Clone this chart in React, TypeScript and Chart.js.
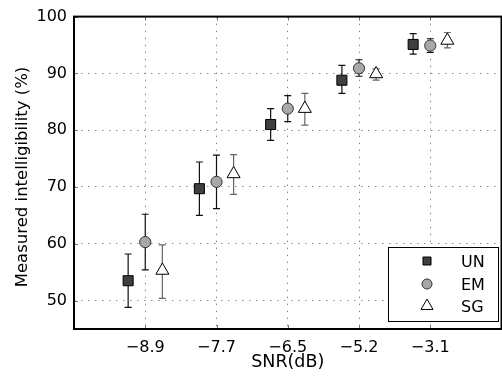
import React, { useEffect, useRef } from "react";
import { Chart, registerables } from "chart.js";

Chart.register(...registerables);

const categories = ["\u22128.9", "\u22127.7", "\u22126.5", "\u22125.2", "\u22123.1"];
const yTicks = [50, 60, 70, 80, 90, 100];

const unMean = [53.5, 69.7, 81.0, 88.8, 95.1];
const unLow = [48.8, 65.0, 78.2, 86.5, 93.4];
const unHigh = [58.2, 74.4, 83.8, 91.4, 97.0];

const emMean = [60.3, 70.9, 83.8, 90.9, 94.9];
const emLow = [55.4, 66.2, 81.5, 89.5, 93.7];
const emHigh = [65.2, 75.6, 86.1, 92.4, 96.1];

const sgMean = [55.3, 72.3, 83.8, 89.9, 95.8];
const sgLow = [50.4, 68.7, 80.9, 88.8, 94.5];
const sgHigh = [59.8, 75.7, 86.5, 90.8, 97.2];

const offsets = [-0.24, 0, 0.24];

const seriesNames = ["UN", "EM", "SG"];

const FONT = "'DejaVu Sans', sans-serif";

function pts(mean: number[], off: number) {
  return mean.map((v, i) => ({ x: i + 1 + off, y: v }));
}

const errData = [
  { low: unLow, high: unHigh, color: "#111" },
  { low: emLow, high: emHigh, color: "#111" },
  { low: sgLow, high: sgHigh, color: "#666" },
];

function drawMarker(ctx: CanvasRenderingContext2D, kind: number, x: number, y: number, s: number) {
  ctx.save();
  ctx.lineWidth = 1;
  ctx.strokeStyle = "#000";
  ctx.beginPath();
  if (kind === 0) {
    ctx.fillStyle = "#3f3f3f";
    ctx.rect(x - s / 2, y - s / 2, s, s);
  } else if (kind === 1) {
    ctx.fillStyle = "#a8a8a8";
    ctx.strokeStyle = "#333";
    ctx.arc(x, y, s / 2, 0, Math.PI * 2);
  } else {
    ctx.fillStyle = "#fff";
    const r = s / Math.sqrt(3);
    ctx.moveTo(x, y - r);
    ctx.lineTo(x + s / 2, y + r / 2);
    ctx.lineTo(x - s / 2, y + r / 2);
    ctx.closePath();
  }
  ctx.fill();
  ctx.stroke();
  ctx.restore();
}

const errorBarPlugin = {
  id: "errorBars",
  beforeDatasetsDraw(chart: any) {
    const ctx = chart.ctx;
    const xs = chart.scales.x;
    const ys = chart.scales.y;
    errData.forEach((e, k) => {
      ctx.save();
      ctx.strokeStyle = e.color;
      ctx.lineWidth = 1.2;
      e.low.forEach((lo, i) => {
        const px = xs.getPixelForValue(i + 1 + offsets[k]);
        const pl = ys.getPixelForValue(lo);
        const ph = ys.getPixelForValue(e.high[i]);
        ctx.beginPath();
        ctx.moveTo(px, pl);
        ctx.lineTo(px, ph);
        ctx.moveTo(px - 3.5, pl);
        ctx.lineTo(px + 3.5, pl);
        ctx.moveTo(px - 3.5, ph);
        ctx.lineTo(px + 3.5, ph);
        ctx.stroke();
      });
      ctx.restore();
    });
  },
};

const framePlugin = {
  id: "frame",
  afterDraw(chart: any) {
    const ctx = chart.ctx;
    const a = chart.chartArea;
    const xs = chart.scales.x;
    const ys = chart.scales.y;
    ctx.save();
    // inward ticks
    ctx.strokeStyle = "#777";
    ctx.lineWidth = 1;
    ctx.beginPath();
    for (let i = 1; i <= categories.length; i++) {
      const px = Math.round(xs.getPixelForValue(i)) + 0.5;
      ctx.moveTo(px, a.bottom);
      ctx.lineTo(px, a.bottom - 4);
      ctx.moveTo(px, a.top);
      ctx.lineTo(px, a.top + 4);
    }
    yTicks.forEach((v) => {
      const py = Math.round(ys.getPixelForValue(v)) + 0.5;
      ctx.moveTo(a.left, py);
      ctx.lineTo(a.left + 4, py);
    });
    ctx.stroke();
    // frame
    ctx.strokeStyle = "#000";
    ctx.lineWidth = 2;
    ctx.strokeRect(a.left, a.top, a.right - a.left, a.bottom - a.top);

    // axis titles
    ctx.fillStyle = "#000";
    ctx.font = "17.5px " + FONT;
    ctx.textAlign = "center";
    ctx.textBaseline = "alphabetic";
    ctx.fillText("SNR(dB)", xs.getPixelForValue(3), 366.5);
    ctx.save();
    ctx.font = "16.5px " + FONT;
    ctx.translate(26.5, 177);
    ctx.rotate(-Math.PI / 2);
    ctx.fillText("Measured intelligibility (%)", 0, 0);
    ctx.restore();

    // legend
    const lx = 388.5, ly = 247.5, lw = 110, lh = 74;
    ctx.fillStyle = "#fff";
    ctx.fillRect(lx, ly, lw, lh);
    ctx.strokeStyle = "#000";
    ctx.lineWidth = 1;
    ctx.strokeRect(lx, ly, lw, lh);
    const rows = [261, 284, 306];
    const sizes = [8, 10, 12];
    seriesNames.forEach((n, k) => {
      drawMarker(ctx, k, 427, rows[k], sizes[k]);
      ctx.fillStyle = "#000";
      ctx.font = "16px " + FONT;
      ctx.textAlign = "left";
      ctx.textBaseline = "alphabetic";
      ctx.fillText(n, 461, rows[k] + 6);
    });
    ctx.restore();
  },
};

export default function App() {
  const ref = useRef<HTMLCanvasElement | null>(null);
  useEffect(() => {
    if (!ref.current) return;
    const font = { family: FONT, size: 16 };
    const chart = new Chart(ref.current, {
      type: "scatter",
      data: {
        datasets: [
          {
            label: "UN",
            data: pts(unMean, offsets[0]),
            pointStyle: "rect",
            pointRadius: 7.1,
            backgroundColor: "#3f3f3f",
            borderColor: "#000",
            borderWidth: 1,
          },
          {
            label: "EM",
            data: pts(emMean, offsets[1]),
            pointStyle: "circle",
            pointRadius: 5.6,
            backgroundColor: "#a8a8a8",
            borderColor: "#333",
            borderWidth: 1,
          },
          {
            label: "SG",
            data: pts(sgMean, offsets[2]),
            pointStyle: "triangle",
            pointRadius: 7.5,
            backgroundColor: "#fff",
            borderColor: "#000",
            borderWidth: 1,
          },
        ],
      },
      options: {
        animation: false,
        responsive: false,
        events: [],
        layout: { padding: { top: 15, right: 5, left: 0, bottom: 0 } },
        plugins: { legend: { display: false }, tooltip: { enabled: false } },
        scales: {
          x: {
            type: "linear",
            min: 0,
            max: 6,
            afterBuildTicks: (s: any) => {
              s.ticks = categories.map((_, i) => ({ value: i + 1 }));
            },
            afterFit: (s: any) => {
              s.height = 51;
            },
            ticks: {
              color: "#000",
              font,
              padding: 9,
              callback: (v: any) => categories[Math.round(v) - 1] ?? "",
            },
            grid: {
              color: "#8a8a8a",
              lineWidth: 1,
              drawTicks: false,
            },
            border: { display: false, dash: [1.5, 5.5] },
          },
          y: {
            min: 45,
            max: 100,
            afterBuildTicks: (s: any) => {
              s.ticks = yTicks.map((v) => ({ value: v }));
            },
            afterFit: (s: any) => {
              s.width = 74;
            },
            ticks: { color: "#000", font, padding: 7 },
            grid: {
              color: (c: any) => (c.tick && c.tick.value === 100 ? "rgba(0,0,0,0)" : "#8a8a8a"),
              lineWidth: 1,
              drawTicks: false,
            },
            border: { display: false, dash: [1.5, 5.5] },
          },
        },
      },
      plugins: [errorBarPlugin, framePlugin],
    } as any);
    return () => chart.destroy();
  }, []);
  return (
    <div style={{ position: "fixed", left: 0, top: 0, width: 502, height: 380, overflow: "hidden", background: "#fff" }}>
      <canvas ref={ref} width={510} height={380} style={{ display: "block", width: 510, height: 380 }} />
    </div>
  );
}
